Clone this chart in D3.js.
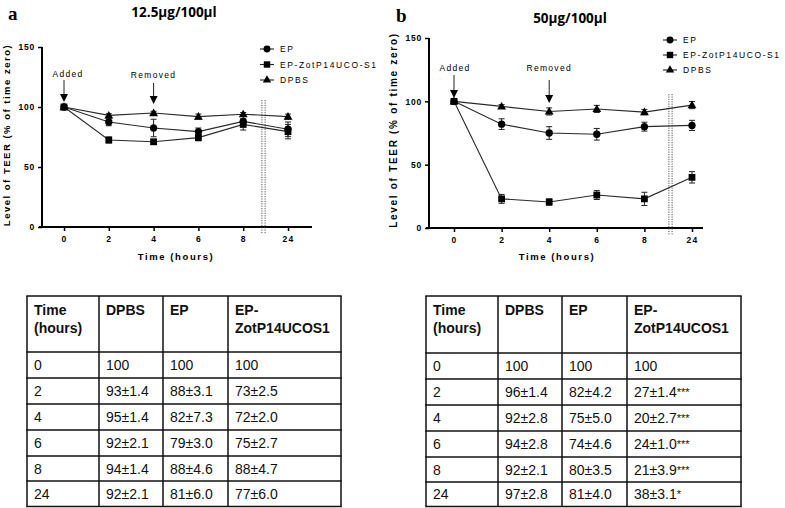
<!DOCTYPE html>
<html><head><meta charset="utf-8">
<script src="https://cdn.jsdelivr.net/npm/d3@7/dist/d3.min.js"></script>
<style>
html,body{margin:0;padding:0;background:#fff;}
svg{display:block;font-family:"Liberation Sans",Arial,sans-serif;}
</style></head>
<body>
<svg id="chart" width="785" height="508"></svg>
<script>
// ---------- data ----------
const timeLabels = ["0", "2", "4", "6", "8", "24"];
const seriesNames = ["EP", "EP-ZotP14UCO-S1", "DPBS"];
const seriesSymbols = ["circle", "square", "triangle"];
const yTicks = [0, 50, 100, 150];

// panel a (12.5µg/100µl)
const aEP = [100, 87.5, 82.5, 79.5, 88, 81.5];
const aEPErr = [0, 3.1, 7.3, 3.0, 4.6, 6.0];
const aZot = [100, 72.5, 71, 74.5, 85.5, 79.5];
const aZotErr = [0, 2.5, 2.0, 2.7, 4.7, 6.0];
const aDPBS = [100, 93, 95, 92, 94, 92];
const aDPBSErr = [0, 1.4, 1.4, 2.1, 1.4, 2.1];

// panel b (50µg/100µl)
const bEP = [100, 82, 75, 74, 80, 81];
const bEPErr = [0, 4.2, 5.0, 4.6, 3.5, 4.0];
const bZot = [100, 23, 20.5, 26, 23, 40];
const bZotErr = [0, 3.5, 2.5, 3.5, 5.2, 4.5];
const bDPBS = [100, 96, 92, 94, 91.5, 97];
const bDPBSErr = [0, 1.4, 2.8, 2.8, 2.1, 2.8];

// tables
const tableHeader = [["Time", "(hours)"], ["DPBS"], ["EP"], ["EP-", "ZotP14UCOS1"]];
const tableTime = ["0", "2", "4", "6", "8", "24"];
const tableA_DPBS = ["100", "93±1.4", "95±1.4", "92±2.1", "94±1.4", "92±2.1"];
const tableA_EP = ["100", "88±3.1", "82±7.3", "79±3.0", "88±4.6", "81±6.0"];
const tableA_Zot = ["100", "73±2.5", "72±2.0", "75±2.7", "88±4.7", "77±6.0"];
const tableB_DPBS = ["100", "96±1.4", "92±2.8", "94±2.8", "92±2.1", "97±2.8"];
const tableB_EP = ["100", "82±4.2", "75±5.0", "74±4.6", "80±3.5", "81±4.0"];
const tableB_Zot = ["100", "27±1.4***", "20±2.7***", "24±1.0***", "21±3.9***", "38±3.1*"];

// ---------- drawing ----------
const svg = d3.select("#chart");
const symMap = {circle: d3.symbolCircle, square: d3.symbolSquare, triangle: d3.symbolTriangle};
const symSize = {circle: 42, square: 46, triangle: 34};

function drawPanel(cfg) {
  const g = svg.append("g");
  const x = d3.scalePoint().domain(timeLabels).range(cfg.xRange);
  const y = d3.scaleLinear().domain([0, 150]).range(cfg.yRange);

  // panel letter + title
  g.append("text").attr("x", cfg.letterX).attr("y", cfg.letterY)
    .attr("font-family", "'Liberation Serif','DejaVu Serif',serif").attr("font-weight", "bold")
    .attr("font-size", 19).text(cfg.letter);
  g.append("text").attr("x", cfg.titleX).attr("y", cfg.titleY).attr("text-anchor", "middle")
    .attr("font-family", "'Open Sans','Liberation Sans',sans-serif").attr("font-weight", "bold")
    .attr("font-size", 13.5).text(cfg.title);

  // y axis
  const yAx = g.append("g").attr("transform", `translate(${cfg.axisX},0)`)
    .call(d3.axisLeft(y).tickValues(yTicks).tickSize(4).tickSizeOuter(0).tickPadding(3));
  yAx.select(".domain").attr("stroke-width", 2).attr("d", `M0,${y(150)}V${y(0)}`);
  yAx.selectAll(".tick line").attr("stroke-width", 1.5);
  yAx.selectAll("text").attr("font-size", 8.5).attr("font-weight", "bold")
    .attr("letter-spacing", 0.8).attr("font-family", "'Liberation Sans',Arial,sans-serif");

  // x axis
  const xAx = g.append("g").attr("transform", `translate(0,${y(0)})`)
    .call(d3.axisBottom(x).tickSize(4).tickSizeOuter(0).tickPadding(5));
  xAx.select(".domain").attr("stroke-width", 2)
    .attr("d", `M${cfg.axisX - 3},0H${cfg.axisEnd}`);
  xAx.selectAll(".tick line").attr("stroke-width", 1.5);
  xAx.selectAll("text").attr("font-size", 8.5).attr("font-weight", "bold")
    .attr("letter-spacing", 1.2).attr("font-family", "'Liberation Sans',Arial,sans-serif");

  // axis titles
  g.append("text").attr("x", cfg.xLabelX).attr("y", cfg.xLabelY).attr("text-anchor", "middle")
    .attr("font-size", 9.5).attr("font-weight", "bold").attr("letter-spacing", 1.6)
    .text("Time (hours)");
  g.append("text").attr("transform", `translate(${cfg.yLabelX},${cfg.yLabelY}) rotate(-90)`)
    .attr("text-anchor", "middle").attr("font-size", cfg.yLabelSize).attr("font-weight", "bold")
    .attr("letter-spacing", cfg.yLabelSpacing).text("Level of TEER (% of time zero)");

  // axis break (double dotted line)
  [-1.6, 1.6].forEach(dx => {
    g.append("line").attr("x1", cfg.breakX + dx).attr("x2", cfg.breakX + dx)
      .attr("y1", cfg.breakTop).attr("y2", y(0) + 7)
      .attr("stroke", "#555").attr("stroke-width", 1).attr("stroke-dasharray", "1.2,1.2");
  });

  // series
  const line = d3.line().x((d, i) => x(timeLabels[i])).y(d => y(d));
  cfg.series.forEach((s, si) => {
    g.append("path").datum(s.values).attr("d", line).attr("fill", "none")
      .attr("stroke", "#2a2a2a").attr("stroke-width", 1.1);
  });
  cfg.series.forEach((s, si) => {
    s.values.forEach((v, i) => {
      const e = s.errs[i];
      if (e > 0) {
        const cx = x(timeLabels[i]);
        g.append("path").attr("d",
          `M${cx},${y(v - e)}V${y(v + e)}M${cx - 3},${y(v - e)}H${cx + 3}M${cx - 3},${y(v + e)}H${cx + 3}`)
          .attr("stroke", "#222").attr("stroke-width", 1).attr("fill", "none");
      }
    });
  });
  cfg.series.forEach((s, si) => {
    const sym = seriesSymbols[si];
    g.selectAll(null).data(s.values).enter().append("path")
      .attr("transform", (d, i) => `translate(${x(timeLabels[i])},${y(d) + (sym === "triangle" ? 0.6 : 0)})`)
      .attr("d", d3.symbol().type(symMap[sym]).size(symSize[sym]))
      .attr("fill", "#000");
  });

  // annotation arrows
  cfg.arrows.forEach(a => {
    const ax = x(a.at);
    g.append("text").attr("x", ax + (a.dx || 0)).attr("y", a.textY).attr("text-anchor", "middle")
      .attr("font-size", 8.5).attr("letter-spacing", 1.3).text(a.label);
    g.append("line").attr("x1", ax).attr("x2", ax).attr("y1", a.y1).attr("y2", a.y2 - 6)
      .attr("stroke", "#222").attr("stroke-width", 1);
    g.append("path").attr("d", `M${ax - 4},${a.y2 - 8}L${ax + 4},${a.y2 - 8}L${ax},${a.y2}Z`).attr("fill", "#000");
  });

  // legend
  seriesNames.forEach((n, i) => {
    const ly = cfg.legendY + i * cfg.legendStep;
    g.append("line").attr("x1", cfg.legendX).attr("x2", cfg.legendX + 14).attr("y1", ly).attr("y2", ly)
      .attr("stroke", "#222").attr("stroke-width", 1.1);
    const sym = seriesSymbols[i];
    g.append("path").attr("transform", `translate(${cfg.legendX + 7},${ly})`)
      .attr("d", d3.symbol().type(symMap[sym]).size(symSize[sym] * 0.9)).attr("fill", "#000");
    g.append("text").attr("x", cfg.legendX + 20).attr("y", ly + 3.2)
      .attr("font-size", 8.5).attr("letter-spacing", 1.6).text(n);
  });
}

drawPanel({
  letter: "a", letterX: 8, letterY: 20, title: "12.5\u00b5g/100\u00b5l", titleX: 174, titleY: 17,
  xRange: [64, 288], yRange: [227, 47], axisX: 42, axisEnd: 312,
  xLabelX: 176, xLabelY: 260, yLabelX: 10, yLabelY: 135, yLabelSize: 9.5, yLabelSpacing: 1.5,
  breakX: 263.5, breakTop: 100,
  series: [{values: aEP, errs: aEPErr}, {values: aZot, errs: aZotErr}, {values: aDPBS, errs: aDPBSErr}],
  arrows: [{at: "0", label: "Added", textY: 77, y1: 80, y2: 102, dx: 4}, {at: "4", label: "Removed", textY: 78, y1: 83, y2: 104}],
  legendX: 260, legendY: 49, legendStep: 15.5
});

drawPanel({
  letter: "b", letterX: 396, letterY: 22, title: "50\u00b5g/100\u00b5l", titleX: 570, titleY: 23,
  xRange: [454, 692], yRange: [228, 38], axisX: 429, axisEnd: 703,
  xLabelX: 557, xLabelY: 260, yLabelX: 397, yLabelY: 130, yLabelSize: 10, yLabelSpacing: 1.7,
  breakX: 670.5, breakTop: 94,
  series: [{values: bEP, errs: bEPErr}, {values: bZot, errs: bZotErr}, {values: bDPBS, errs: bDPBSErr}],
  arrows: [{at: "0", label: "Added", textY: 71, y1: 75, y2: 98, dx: 1}, {at: "4", label: "Removed", textY: 71, y1: 80, y2: 103}],
  legendX: 663, legendY: 40, legendStep: 15
});

// ---------- tables ----------
function drawTable(cfg, cols) {
  const g = svg.append("g");
  const colX = cfg.colX;            // column boundaries
  const rowY = cfg.rowY;            // row boundaries
  colX.forEach(cx => g.append("line").attr("x1", cx).attr("x2", cx).attr("y1", rowY[0]).attr("y2", rowY[rowY.length - 1])
    .attr("stroke", "#111").attr("stroke-width", 1.5));
  rowY.forEach(ry => g.append("line").attr("x1", colX[0] - 0.75).attr("x2", colX[colX.length - 1] + 0.75).attr("y1", ry).attr("y2", ry)
    .attr("stroke", "#111").attr("stroke-width", 1.5));
  // header
  tableHeader.forEach((h, ci) => {
    h.forEach((line, li) => {
      g.append("text").attr("x", colX[ci] + 7).attr("y", rowY[0] + 18.5 + li * 18.5)
        .attr("font-size", 14).attr("font-weight", "bold").attr("fill", "#111").text(line);
    });
  });
  // body
  for (let r = 0; r < tableTime.length; r++) {
    const mid = (rowY[r + 1] + rowY[r + 2]) / 2;
    cols.forEach((col, ci) => {
      const t = g.append("text").attr("x", colX[ci] + 7).attr("y", mid + 5)
        .attr("font-size", 14).attr("fill", "#111");
      const s = col[r];
      const m = s.match(/^([^*]*)(\**)$/);
      t.append("tspan").text(m[1]);
      if (m[2]) t.append("tspan").attr("font-size", 11).attr("dy", -1).text(m[2]);
    });
  }
}

drawTable({colX: [27, 99, 163, 228, 341], rowY: [296, 352, 378, 404, 430, 456, 481, 506.5]},
  [tableTime, tableA_DPBS, tableA_EP, tableA_Zot]);
drawTable({colX: [426, 498, 562, 627, 741], rowY: [296, 353, 379, 405, 431, 457, 482, 506.5]},
  [tableTime, tableB_DPBS, tableB_EP, tableB_Zot]);
</script>
</body></html>
